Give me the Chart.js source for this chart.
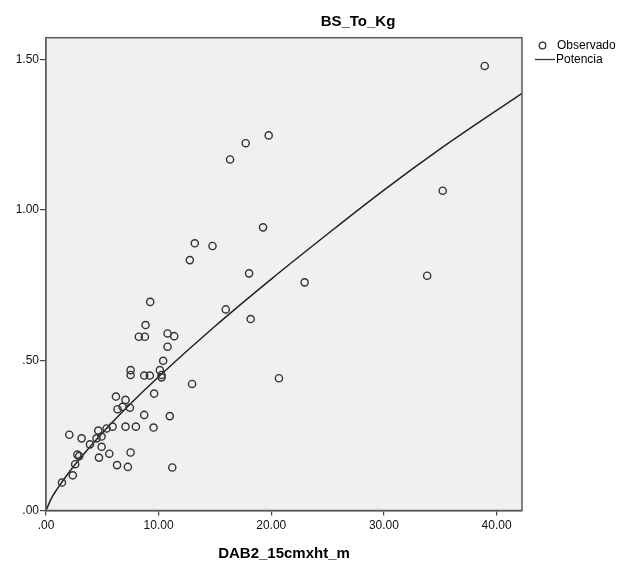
<!DOCTYPE html>
<html>
<head>
<meta charset="utf-8">
<script src="https://cdn.jsdelivr.net/npm/chart.js@4/dist/chart.umd.min.js"></script>
<style>
  html, body { margin: 0; padding: 0; background: #ffffff; }
  #wrap { width: 628px; height: 563px; }
</style>
</head>
<body>
<div id="wrap"><canvas id="c" width="628" height="563"></canvas></div>
<script>
// ---- data ----
const chartTitle = "BS_To_Kg";
const xAxisTitle = "DAB2_15cmxht_m";
const legendLabels = ["Observado", "Potencia"];

const obsX = [38.95, 19.77, 17.73, 16.34, 19.27, 13.21, 14.78, 12.77, 18.03, 22.96,
              33.84, 35.22, 15.96, 18.17, 20.68, 9.25, 8.84, 8.24, 8.78, 10.79,
              11.38, 10.79, 10.40, 7.51, 7.51, 8.72, 9.22, 10.11, 10.26, 10.26,
              12.97, 9.60, 6.21, 7.06, 6.80, 6.35, 7.45, 8.72, 10.99, 5.91,
              7.06, 7.98, 9.55, 4.64, 5.38, 2.07, 3.16, 4.49, 4.93, 3.90,
              4.94, 2.78, 2.95, 4.70, 5.62, 7.51, 1.42, 2.38, 2.59, 6.31,
              7.27, 11.21];
const obsY = [1.479, 1.248, 1.222, 1.168, 0.942, 0.889, 0.880, 0.833, 0.789, 0.759,
              0.781, 1.064, 0.669, 0.637, 0.440, 0.694, 0.617, 0.578, 0.578, 0.589,
              0.580, 0.545, 0.498, 0.467, 0.451, 0.449, 0.449, 0.467, 0.451, 0.443,
              0.421, 0.389, 0.379, 0.368, 0.345, 0.337, 0.342, 0.318, 0.314, 0.279,
              0.279, 0.279, 0.276, 0.266, 0.273, 0.252, 0.240, 0.240, 0.246, 0.220,
              0.212, 0.186, 0.181, 0.176, 0.189, 0.193, 0.093, 0.117, 0.154, 0.151,
              0.145, 0.143];

// fitted "Potencia" curve
const curveX = [0, 0.5, 1, 2, 3, 5, 7.5, 10, 15, 20, 25, 30, 35, 42.26];
const curveY = [0, 0.042, 0.072, 0.125, 0.172, 0.258, 0.355, 0.445, 0.613, 0.770, 0.920, 1.066, 1.203, 1.388];

const xTicks = [0, 10, 20, 30, 40];
const yTicks = [0, 0.5, 1.0, 1.5];
const xMax = 42.26;
const yMax = 1.573;

// ---- chart ----
const FONT = "'Liberation Sans', Arial, sans-serif";
const fmt = v => v.toFixed(2).replace(/^0(?=\.)/, "");

const decor = {
  id: "decor",
  beforeDatasetsDraw(chart) {
    const { ctx, chartArea: a } = chart;
    ctx.save();
    ctx.fillStyle = "#f0f0f0";
    ctx.fillRect(a.left, a.top, a.right - a.left, a.bottom - a.top);
    ctx.restore();
  },
  afterDraw(chart) {
    const { ctx, chartArea: a } = chart;
    ctx.save();
    // frame
    ctx.strokeStyle = "#5a5a5a";
    ctx.lineWidth = 1.5;
    ctx.strokeRect(a.left, a.top, a.right - a.left, a.bottom - a.top);
    // title
    ctx.fillStyle = "#000";
    ctx.textAlign = "center";
    ctx.textBaseline = "alphabetic";
    ctx.font = "bold 15px " + FONT;
    ctx.fillText(chartTitle, 358, 26);
    // x axis title
    ctx.fillText(xAxisTitle, (a.left + a.right) / 2, 558);
    // legend
    ctx.font = "12px " + FONT;
    ctx.textAlign = "left";
    ctx.textBaseline = "middle";
    ctx.strokeStyle = "#333";
    ctx.lineWidth = 1.3;
    ctx.beginPath();
    ctx.arc(542.5, 45.5, 3.3, 0, Math.PI * 2);
    ctx.stroke();
    ctx.fillText(legendLabels[0], 557, 46);
    ctx.lineWidth = 1.3;
    ctx.beginPath();
    ctx.moveTo(535, 59.5);
    ctx.lineTo(555, 59.5);
    ctx.stroke();
    ctx.fillText(legendLabels[1], 556, 60);
    ctx.restore();
  }
};

new Chart(document.getElementById("c"), {
  type: "scatter",
  data: {
    datasets: [
      {
        label: legendLabels[1],
        data: curveX.map((x, i) => ({ x, y: curveY[i] })),
        showLine: true,
        borderColor: "#222",
        borderWidth: 1.5,
        pointRadius: 0,
        cubicInterpolationMode: "monotone",
        fill: false,
        order: 2
      },
      {
        label: legendLabels[0],
        data: obsX.map((x, i) => ({ x, y: obsY[i] })),
        pointStyle: "circle",
        pointRadius: 3.6,
        pointBorderWidth: 1.4,
        borderColor: "#333",
        backgroundColor: "rgba(0,0,0,0)",
        order: 1
      }
    ]
  },
  options: {
    responsive: false,
    animation: false,
    layout: { padding: { top: 37.7, right: 106, bottom: 0, left: 0 } },
    plugins: { legend: { display: false }, title: { display: false }, tooltip: { enabled: false } },
    scales: {
      x: {
        type: "linear",
        min: 0,
        max: xMax,
        afterFit(s) { s.height = 52.5; },
        afterBuildTicks(s) { s.ticks = xTicks.map(v => ({ value: v })); },
        grid: { drawOnChartArea: false, drawTicks: true, tickLength: 5, color: "#444", lineWidth: 1.2 },
        border: { display: true, color: "#5a5a5a", width: 1.5 },
        ticks: { callback: v => fmt(v), color: "#111", font: { family: FONT, size: 12 }, padding: 3, maxRotation: 0 }
      },
      y: {
        type: "linear",
        min: 0,
        max: yMax,
        afterFit(s) { s.width = 46; },
        afterBuildTicks(s) { s.ticks = yTicks.map(v => ({ value: v })); },
        grid: { drawOnChartArea: false, drawTicks: true, tickLength: 6, color: "#444", lineWidth: 1.2 },
        border: { display: true, color: "#5a5a5a", width: 1.5 },
        ticks: { callback: v => fmt(v), color: "#111", font: { family: FONT, size: 12 }, padding: 1 }
      }
    }
  },
  plugins: [decor]
});
</script>
</body>
</html>
